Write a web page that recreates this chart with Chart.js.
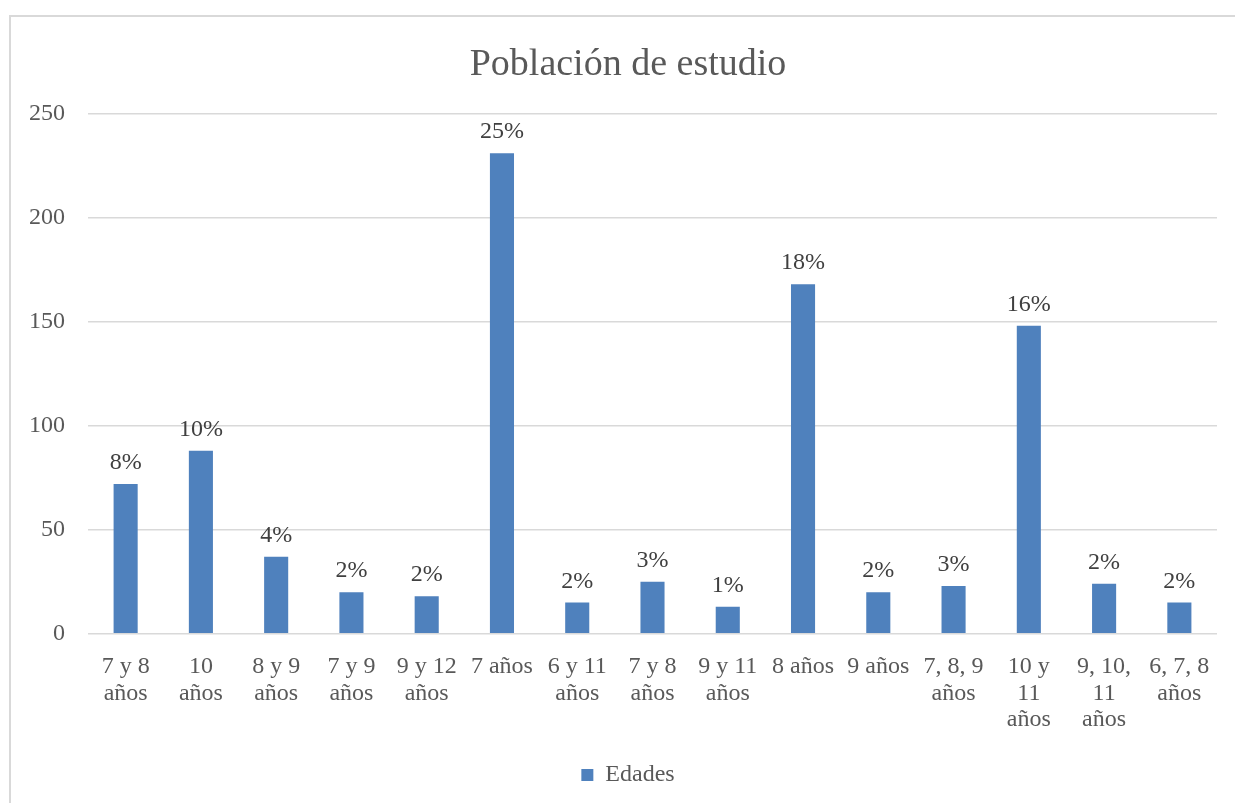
<!DOCTYPE html>
<html>
<head>
<meta charset="utf-8">
<script src="https://cdn.jsdelivr.net/npm/chart.js@4.4.0/dist/chart.umd.min.js"></script>
<style>
  html, body { margin: 0; padding: 0; background: #ffffff; }
  #wrap { position: relative; width: 1235px; height: 803px; overflow: hidden; background: #ffffff; }
  #frame { position: absolute; left: 9px; top: 15px; width: 1300px; height: 900px; border: 2px solid #d9d9d9; box-sizing: border-box; }
  #c { position: absolute; left: 0; top: 0; }
</style>
</head>
<body>
<div id="wrap">
  <div id="frame"></div>
  <canvas id="c" width="1235" height="803"></canvas>
</div>
<script>
const titleText = "Población de estudio";
const seriesName = "Edades";
const categories = [
  ["7 y 8", "años"], ["10", "años"], ["8 y 9", "años"], ["7 y 9", "años"],
  ["9 y 12", "años"], "7 años", ["6 y 11", "años"], ["7 y 8", "años"],
  ["9 y 11", "años"], "8 años", "9 años", ["7, 8, 9", "años"],
  ["10 y", "11", "años"], ["9, 10,", "11", "años"], ["6, 7, 8", "años"]
];
const values = [72, 88, 37, 20, 18, 231, 15, 25, 13, 168, 20, 23, 148, 24, 15];
const percentLabels = ["8%", "10%", "4%", "2%", "2%", "25%", "2%", "3%", "1%", "18%", "2%", "3%", "16%", "2%", "2%"];
const yTicks = [0, 50, 100, 150, 200, 250];

const FONT = "'Liberation Serif', 'DejaVu Serif', serif";
const TEXT = "#595959";

const dataLabelPlugin = {
  id: "dataLabels",
  afterLayout(chart) {
    // let the y tick labels extend left of the (narrow) axis box without clipping
    chart.scales.y.left = 0;
  },
  afterDatasetsDraw(chart) {
    const ctx = chart.ctx;
    const meta = chart.getDatasetMeta(0);
    ctx.save();
    ctx.font = "24px " + FONT;
    ctx.fillStyle = "#404040";
    ctx.textAlign = "center";
    ctx.textBaseline = "alphabetic";
    meta.data.forEach((el, i) => {
      ctx.fillText(percentLabels[i], el.x, el.y - 15);
    });
    ctx.restore();
  }
};

new Chart(document.getElementById("c"), {
  type: "bar",
  data: {
    labels: categories,
    datasets: [{
      label: seriesName,
      data: values,
      backgroundColor: "#4f81bd",
      borderWidth: 0,
      categoryPercentage: 1.0,
      barPercentage: 0.32
    }]
  },
  options: {
    responsive: false,
    animation: false,
    devicePixelRatio: 1,
    layout: { padding: { top: 42, left: 39, right: 18, bottom: 6 } },
    plugins: {
      title: {
        display: true,
        text: titleText,
        color: TEXT,
        font: { family: FONT, size: 38, weight: "normal" },
        padding: { top: 0, bottom: 26 }
      },
      legend: {
        display: true,
        position: "bottom",
        labels: {
          color: TEXT,
          font: { family: FONT, size: 24 },
          boxWidth: 12,
          boxHeight: 12,
          padding: 10
        }
      },
      tooltip: { enabled: false }
    },
    scales: {
      x: {
        grid: { display: false, drawTicks: false },
        border: { display: false },
        ticks: {
          color: TEXT,
          font: { family: FONT, size: 24, lineHeight: 1.1 },
          padding: 20,
          maxRotation: 0,
          autoSkip: false
        }
      },
      y: {
        min: 0,
        max: 250,
        afterBuildTicks(scale) { scale.ticks = yTicks.map(v => ({ value: v })); },
        afterFit(scale) { scale.width = 49; },
        grid: { color: "#d9d9d9", lineWidth: 1.5, drawTicks: false },
        border: { display: false },
        ticks: {
          color: TEXT,
          font: { family: FONT, size: 24 },
          padding: 23
        }
      }
    }
  },
  plugins: [dataLabelPlugin]
});
</script>
</body>
</html>
